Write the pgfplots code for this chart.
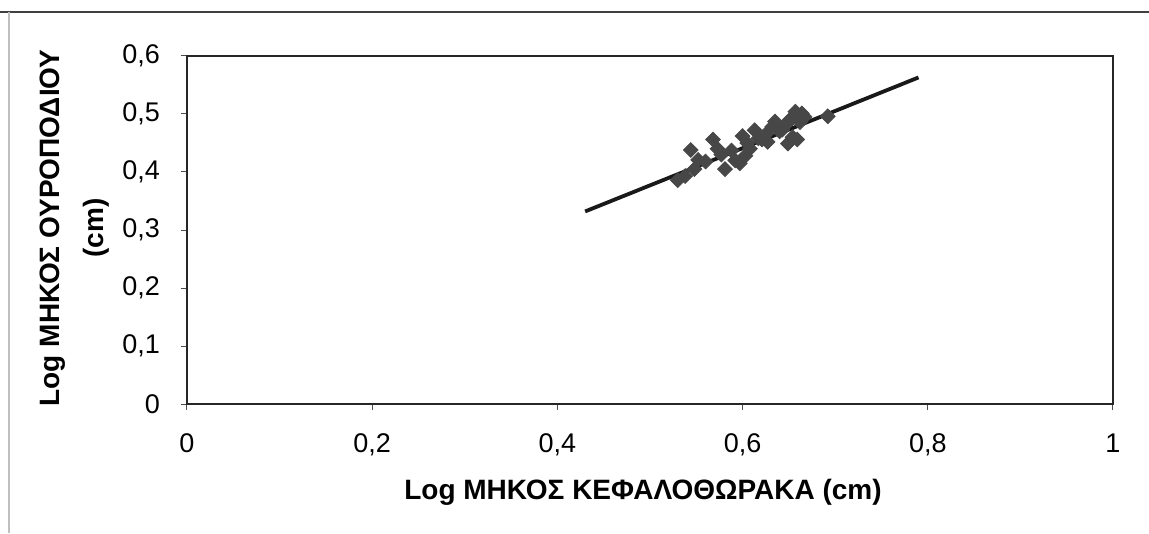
\documentclass[border=0pt]{standalone}
\usepackage{pgfplots}
\pgfplotsset{compat=1.18}
\usepackage{fontspec}
\setmainfont{Liberation Sans}

\begin{document}
\begin{tikzpicture}
\begin{axis}[
    scale only axis,
    width=463pt, height=174pt,
    xmin=0, xmax=1, ymin=0, ymax=0.6,
    xtick={0,0.2,...,1}, ytick={0,0.1,...,0.6},
    xtick pos=bottom, ytick pos=left,
    tick align=outside,
    major tick length=3pt,
    tick style={black!70, line width=0.5pt},
    axis line style={black!85, line width=1.2pt},
    /pgf/number format/assume math mode=true,
    /pgf/number format/use comma,
    /pgf/number format/fixed,
    /pgf/number format/precision=1,
    ticklabel style={font=\fontsize{13.5}{15}\selectfont},
    xticklabel style={yshift=-8.5pt},
    yticklabel style={xshift=-7pt},
    xlabel={Log ΜΗΚΟΣ ΚΕΦΑΛΟΘΩΡΑΚΑ (cm)},
    xlabel style={font=\bfseries\fontsize{14}{16}\selectfont, at={(rel axis cs:0.4925,-0.253)}, anchor=center},
    ylabel={Log ΜΗΚΟΣ ΟΥΡΟΠΟΔΙΟΥ\\[6pt](cm)},
    ylabel style={font=\bfseries\fontsize{14}{16}\selectfont, align=center, at={(rel axis cs:-0.121,0.506)}, anchor=center},
    clip=false,
]
% frame of the original picture
\useasboundingbox (rel axis cs:-0.2019,-0.3718) rectangle (rel axis cs:1.0389,1.1609);
\draw[black!75, line width=0.8pt] (rel axis cs:-0.2019,1.1264) -- (rel axis cs:1.0389,1.1264);
\draw[black!25, line width=0.8pt] (rel axis cs:-0.1922,1.1264) -- (rel axis cs:-0.1922,-0.3718);

\addplot[only marks, mark=square*, mark size=2.6pt, mark options={rotate=45, fill=black!72, draw=black!72}]
    coordinates {
        (0.530,0.386) (0.538,0.393) (0.544,0.438) (0.548,0.405)
        (0.552,0.421) (0.560,0.418) (0.568,0.456) (0.573,0.440)
        (0.577,0.430) (0.581,0.405) (0.588,0.437) (0.592,0.420)
        (0.597,0.415) (0.600,0.462) (0.603,0.428) (0.605,0.450)
        (0.608,0.440) (0.613,0.472) (0.617,0.458) (0.621,0.456)
        (0.625,0.465) (0.627,0.452) (0.632,0.478) (0.635,0.487)
        (0.640,0.470) (0.643,0.473) (0.647,0.482) (0.649,0.449)
        (0.651,0.490) (0.654,0.460) (0.657,0.504) (0.659,0.456)
        (0.662,0.486) (0.664,0.501) (0.667,0.495) (0.692,0.496)
    };

% trend line
\addplot[black!90, line width=1.9pt]
    coordinates {(0.43,0.332) (0.79,0.563)};
\end{axis}
\end{tikzpicture}
\end{document}
